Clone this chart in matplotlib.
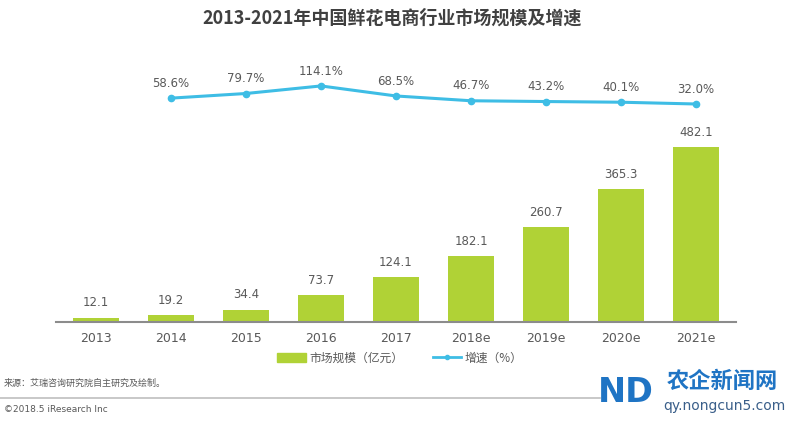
import matplotlib
matplotlib.use('Agg')
import matplotlib.pyplot as plt
from matplotlib.patches import Patch
from matplotlib.lines import Line2D

plt.rcParams['font.family'] = ['DejaVu Sans', 'Noto Sans CJK SC']

years = ['2013', '2014', '2015', '2016', '2017', '2018e', '2019e', '2020e', '2021e']
market = [12.1, 19.2, 34.4, 73.7, 124.1, 182.1, 260.7, 365.3, 482.1]
growth_years = years[1:]
growth = [58.6, 79.7, 114.1, 68.5, 46.7, 43.2, 40.1, 32.0]

bar_color = '#B0D236'
line_color = '#3EBDE5'
text_color = '#595959'

W, H = 800, 421
fig = plt.figure(figsize=(8, 4.21), dpi=100)

# main axes: baseline at y=322 px from top, x from 56 to 736
ax = fig.add_axes([56 / W, (H - 322) / H, 680 / W, 262 / H])
x = list(range(len(years)))
ax.bar(x, market, width=0.62, color=bar_color, zorder=2)
ax.set_xlim(-0.53, len(years) - 1 + 0.53)
ax.set_ylim(0, 262 / 0.363)
for xi, v in zip(x, market):
    ax.annotate(f'{v:.1f}', (xi, v), xytext=(0, 6), textcoords='offset points',
                ha='center', va='bottom', fontsize=8.5, color=text_color)

for s in ['top', 'right', 'left']:
    ax.spines[s].set_visible(False)
ax.spines['bottom'].set_color('#8c8c8c')
ax.spines['bottom'].set_linewidth(1.5)
ax.set_yticks([])
ax.set_xticks(x)
ax.set_xticklabels(years, fontsize=9, color=text_color)
ax.tick_params(axis='x', length=0, pad=7)

# growth line on twin axis
ax2 = ax.twinx()
ax2.set_ylim(32 - 218 / 0.22, 32 - 218 / 0.22 + 262 / 0.22)
ax2.axis('off')
gx = x[1:]
ax2.plot(gx, growth, color=line_color, lw=2.2, marker='o', ms=4.5, zorder=3)
for xi, v in zip(gx, growth):
    ax2.annotate(f'{v:.1f}%', (xi, v), xytext=(0, 6), textcoords='offset points',
                 ha='center', va='bottom', fontsize=8.5, color=text_color)

fig.text(0.49, 1 - 18 / H, '2013-2021年中国鲜花电商行业市场规模及增速',
         ha='center', va='center', fontsize=13, fontweight='bold', color='#404040',
         family=['Noto Sans CJK SC', 'DejaVu Sans'])

handles = [Patch(color=bar_color),
           Line2D([0], [0], color=line_color, lw=2, marker='o', ms=3)]
fig.legend(handles, ['市场规模（亿元）', '增速（%）'], loc='center',
           bbox_to_anchor=(0.5, 1 - 358 / H), ncol=2, frameon=False,
           prop={'family': ['Noto Sans CJK SC', 'DejaVu Sans'], 'size': 8.5},
           labelcolor=text_color, handlelength=2.4, handleheight=0.8,
           columnspacing=2.5, handletextpad=0.3)

fig.text(4 / W, 1 - 383 / H, '来源：艾瑞咨询研究院自主研究及绘制。', ha='left', va='center',
         fontsize=6.5, color=text_color, family=['Noto Sans CJK SC', 'DejaVu Sans'])
fig.add_artist(Line2D([0, 600 / W], [1 - 398 / H, 1 - 398 / H], color='#bfbfbf', lw=1.2))
fig.text(4 / W, 1 - 410 / H, '©2018.5 iResearch Inc', ha='left', va='center',
         fontsize=6.5, color=text_color)

# watermark
fig.text(626 / W, 1 - 392 / H, 'ND', ha='center', va='center', fontsize=24,
         fontweight='bold', color='#1f74c4')
fig.text(722 / W, 1 - 381 / H, '农企新闻网', ha='center', va='center', fontsize=16,
         fontweight='bold', color='#1f74c4', family=['Noto Sans CJK SC', 'DejaVu Sans'])
fig.text(724 / W, 1 - 406 / H, 'qy.nongcun5.com', ha='center', va='center',
         fontsize=10, color='#3a5f8a')

fig.savefig('out.png', dpi=100)
